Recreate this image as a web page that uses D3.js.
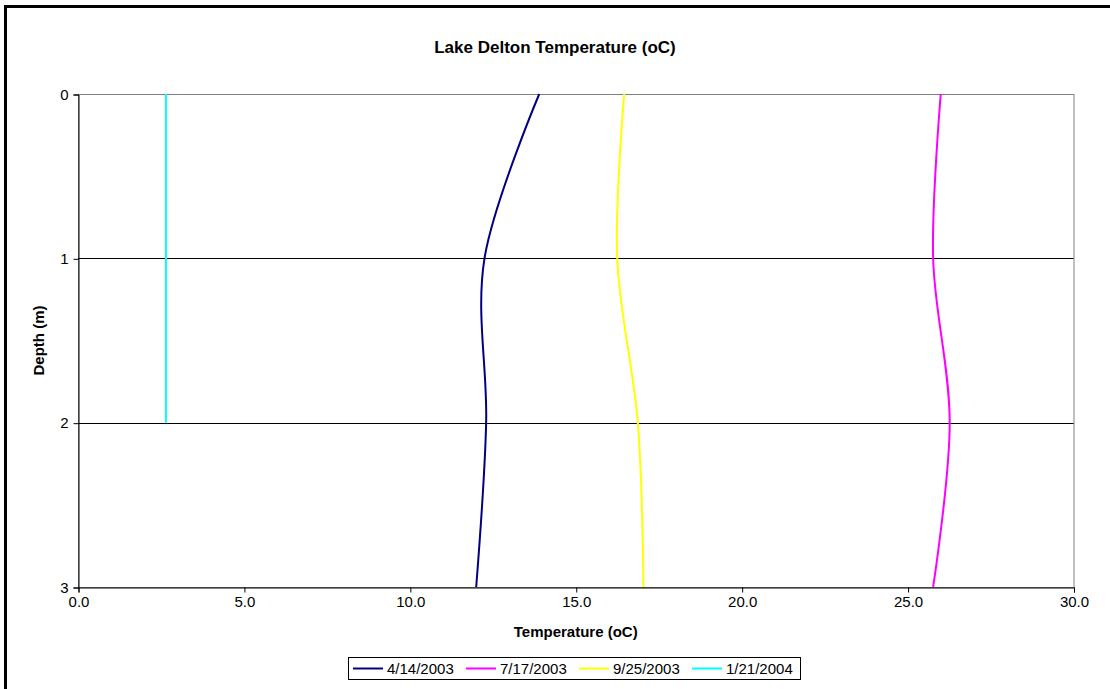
<!DOCTYPE html>
<html>
<head>
<meta charset="utf-8">
<script src="https://cdn.jsdelivr.net/npm/d3@7"></script>
<style>
    body { margin: 0; background: #fff; }
    text { font-family: "Liberation Sans", Arial, sans-serif; fill: #000; }
    .tick text { font-size: 15px; }
    .title { font-size: 17px; font-weight: bold; }
    .axis-title { font-size: 15px; font-weight: bold; }
    .legend text { font-size: 15px; }
</style>
</head>
<body>
<div id="vis"></div>
<script>
// Depths (m) at which the temperature was read
let depths = [0, 1, 2, 3];

// Series names (sampling dates) and colours
let dates = ['4/14/2003', '7/17/2003', '9/25/2003', '1/21/2004'];
let colors = ['#000080', '#ff00ff', '#ffff00', '#00ffff'];

// Temperature (oC) at each depth, one array per date
let temp0414 = [13.9, 12.25, 12.3, 12.0];
let temp0717 = [26.0, 25.77, 26.27, 25.77];
let temp0925 = [16.46, 16.25, 16.87, 17.04];
let temp0121 = [2.65, 2.65, 2.65];

let xTicks = [0, 5, 10, 15, 20, 25, 30];
let yTicks = [0, 1, 2, 3];

let allSeries = [temp0414, temp0717, temp0925, temp0121];

let W = 1110, H = 689;

// Plot area inside the svg
let margin = {
    left: 78,
    top: 94,
    right: 1110 - 1073.5,
    bottom: 689 - 587,
};
let width = W - margin.left - margin.right;
let height = H - margin.top - margin.bottom;

let svg = d3.select('#vis')
    .append('svg')
    .attr('width', W)
    .attr('height', H);

// thick outer chart border (runs off the right and bottom edges)
svg.append('rect')
    .attr('x', 5.5)
    .attr('y', 6.5)
    .attr('width', W + 20)
    .attr('height', H + 20)
    .attr('fill', 'none')
    .attr('stroke', '#000')
    .attr('stroke-width', 3);

let xScale = d3.scaleLinear()
    .domain([0, 30])
    .range([0, width]);

let yScale = d3.scaleLinear()
    .domain([0, 3])
    .range([0, height]);

let g = svg.append('g')
    .attr('transform', `translate(${margin.left}, ${margin.top})`);

// plot area frame (grey)
g.append('rect')
    .attr('x', 0.5)
    .attr('y', 0.5)
    .attr('width', width)
    .attr('height', height)
    .attr('fill', 'none')
    .attr('stroke', '#808080');

// horizontal gridlines
g.selectAll('.grid')
    .data(yTicks.filter(d => d > 0 && d < 3))
    .enter()
    .append('line')
    .attr('class', 'grid')
    .attr('x1', 0)
    .attr('x2', width)
    .attr('y1', d => Math.round(yScale(d)) + 0.5)
    .attr('y2', d => Math.round(yScale(d)) + 0.5)
    .attr('stroke', '#000');

// axes
let xAxis = d3.axisBottom(xScale)
    .tickValues(xTicks)
    .tickFormat(d3.format('.1f'))
    .tickSizeOuter(0)
    .tickSize(5)
    .tickPadding(4);

let yAxis = d3.axisLeft(yScale)
    .tickValues(yTicks)
    .tickFormat(d3.format('d'))
    .tickSizeOuter(0)
    .tickSize(5)
    .tickPadding(5);

let xAxisG = g.append('g')
    .attr('transform', `translate(0.5, ${height + 0.5})`)
    .call(xAxis);

let yAxisG = g.append('g')
    .attr('transform', 'translate(0.5, 0.5)')
    .call(yAxis);

xAxisG.selectAll('line, path').attr('stroke', '#000');
yAxisG.selectAll('line, path').attr('stroke', '#000');
xAxisG.selectAll('text').attr('font-family', null).attr('font-size', null);
yAxisG.selectAll('text').attr('font-family', null).attr('font-size', null);

// series lines, smoothed like the spreadsheet original
let line = d3.line()
    .x(d => xScale(d.t))
    .y(d => yScale(d.depth))
    .curve(d3.curveCatmullRom.alpha(0));

allSeries.forEach((vals, i) => {
    let pts = vals.map((t, j) => ({ t: t, depth: depths[j] }));
    g.append('path')
        .datum(pts)
        .attr('d', line)
        .attr('fill', 'none')
        .attr('stroke', colors[i])
        .attr('stroke-width', 2);
});

// titles
svg.append('text')
    .attr('class', 'title')
    .attr('x', W / 2)
    .attr('y', 53)
    .attr('text-anchor', 'middle')
    .text('Lake Delton Temperature (oC)');

svg.append('text')
    .attr('class', 'axis-title')
    .attr('x', margin.left + width / 2)
    .attr('y', 637)
    .attr('text-anchor', 'middle')
    .text('Temperature (oC)');

svg.append('text')
    .attr('class', 'axis-title')
    .attr('transform', `translate(44, ${margin.top + height / 2}) rotate(-90)`)
    .attr('text-anchor', 'middle')
    .text('Depth (m)');

// legend
let legendX = 348, legendY = 657, itemW = 113;
let legend = svg.append('g')
    .attr('class', 'legend')
    .attr('transform', `translate(${legendX}, ${legendY})`);

legend.append('rect')
    .attr('x', 0.5)
    .attr('y', 0.5)
    .attr('width', 452)
    .attr('height', 22)
    .attr('fill', '#fff')
    .attr('stroke', '#000');

dates.forEach((name, i) => {
    let item = legend.append('g')
        .attr('transform', `translate(${5 + i * itemW}, 0)`);
    item.append('line')
        .attr('x1', 0)
        .attr('x2', 30)
        .attr('y1', 11.5)
        .attr('y2', 11.5)
        .attr('stroke', colors[i])
        .attr('stroke-width', 2);
    item.append('text')
        .attr('x', 34)
        .attr('y', 17)
        .text(name);
});
</script>
</body>
</html>
